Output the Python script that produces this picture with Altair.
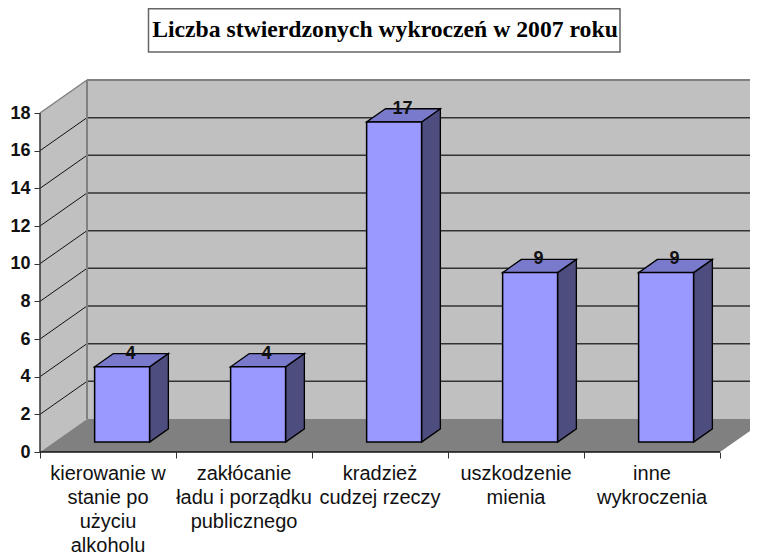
import altair as alt
import pandas as pd

categories = ["kierowanie w\nstanie po\nużyciu\nalkoholu",
              "zakłócanie\nładu i porządku\npublicznego",
              "kradzież\ncudzej rzeczy",
              "uszkodzenie\nmienia",
              "inne\nwykroczenia"]
values = [4, 4, 17, 9, 9]
y_ticks = list(range(0, 20, 2))
x_ticks = list(range(0, 6))

PLOT_W, PLOT_H = 710, 372
XMAX = PLOT_W / 136
DX = 47 / 136      # wall depth, in category units
DY = 33 / 18.83    # wall depth, in value units
YMAX = 18 + DY
BW = 0.404         # bar width
T0, T1 = 0.3, 0.7  # bar front/back position in depth

xs = alt.Scale(domain=[0, XMAX], nice=False, zero=False)
ys = alt.Scale(domain=[0, YMAX], nice=False, zero=False)
axis_style = dict(grid=False, domain=False, title=None, tickColor="#333333", tickWidth=1,
                  tickSize=6)
x_axis = alt.Axis(values=x_ticks, labels=False, **axis_style)
y_axis = alt.Axis(values=y_ticks, labelFont="Liberation Sans", labelFontWeight="bold",
                  labelFontSize=18, labelColor="#111111", labelPadding=4, **axis_style)
X = lambda f: alt.X(f, type="quantitative", scale=xs, axis=x_axis)
Y = lambda f: alt.Y(f, type="quantitative", scale=ys, axis=y_axis, stack=None)
X2 = lambda f: alt.X2(f)
Y2 = lambda f: alt.Y2(f)

wall = (
    alt.Chart(pd.DataFrame({"a": [DX], "b": [5 + DX], "c": [DY], "d": [18 + DY]}))
    .mark_rect(color="#C0C0C0")
    .encode(x=X("a"), x2=X2("b"), y=Y("c"), y2=Y2("d"))
)
side_wall = (
    alt.Chart(pd.DataFrame({"x": [0, DX], "lo": [0, DY], "hi": [18, 18 + DY]}))
    .mark_area(color="#C0C0C0")
    .encode(x=X("x"), y=Y("lo"), y2=Y2("hi"))
)
floor = (
    alt.Chart(pd.DataFrame({"y": [0, DY], "l": [0, DX], "r": [5, 5 + DX]}))
    .mark_area(color="#808080", orient="horizontal")
    .encode(y=Y("y"), x=X("l"), x2=X2("r"))
)

grid_vals = [v for v in y_ticks if 0 < v < 18]
back_grid = (
    alt.Chart(pd.DataFrame({"y": [v + DY for v in grid_vals], "l": DX, "r": 5 + DX}))
    .mark_rule(color="#333333", strokeWidth=1.5)
    .encode(x=X("l"), x2=X2("r"), y=Y("y"))
)
side_grid = (
    alt.Chart(pd.DataFrame({"v": grid_vals, "y2": [v + DY for v in grid_vals], "l": 0, "r": DX}))
    .mark_rule(color="#111111", strokeWidth=1)
    .encode(x=X("l"), x2=X2("r"), y=Y("v"), y2=Y2("y2"))
)
top_edge = (
    alt.Chart(pd.DataFrame({"y": [18 + DY], "l": [DX], "r": [5 + DX]}))
    .mark_rule(color="#808080", strokeWidth=2)
    .encode(x=X("l"), x2=X2("r"), y=Y("y"))
)
back_left = (
    alt.Chart(pd.DataFrame({"x": [DX], "lo": [DY], "hi": [18 + DY]}))
    .mark_rule(color="#808080", strokeWidth=2)
    .encode(x=X("x"), y=Y("lo"), y2=Y2("hi"))
)
side_top = (
    alt.Chart(pd.DataFrame({"l": [0], "r": [DX], "a": [18], "b": [18 + DY]}))
    .mark_rule(color="#808080", strokeWidth=1.5)
    .encode(x=X("l"), x2=X2("r"), y=Y("a"), y2=Y2("b"))
)
y_line = (
    alt.Chart(pd.DataFrame({"x": [0], "a": [0], "b": [18]}))
    .mark_rule(color="#333333", strokeWidth=1.5)
    .encode(x=X("x"), y=Y("a"), y2=Y2("b"))
)
x_line = (
    alt.Chart(pd.DataFrame({"y": [0], "a": [0], "b": [5]}))
    .mark_rule(color="#111111", strokeWidth=1.5)
    .encode(y=Y("y"), x=X("a"), x2=X2("b"))
)

rows_front, rows_side, rows_top, rows_lab = [], [], [], []
for i, v in enumerate(values):
    l = i + 0.5 - BW / 2 + T0 * DX
    r = l + BW
    d = (T1 - T0) * DX
    b = T0 * DY
    h = (T1 - T0) * DY
    rows_front.append({"l": l, "r": r, "lo": b, "hi": b + v})
    rows_side += [{"i": i, "x": r, "lo": b, "hi": b + v},
                  {"i": i, "x": r + d, "lo": b + h, "hi": b + v + h}]
    rows_top += [{"i": i, "y": b + v, "l": l, "r": r},
                 {"i": i, "y": b + v + h, "l": l + d, "r": r + d}]
    rows_lab.append({"x": (l + r) / 2 + d / 2, "y": b + v + h, "t": str(v)})

bar_side = (
    alt.Chart(pd.DataFrame(rows_side))
    .mark_area(color="#4D4D80", stroke="#000000", strokeWidth=1.3)
    .encode(x=X("x"), y=Y("lo"), y2=Y2("hi"), detail="i:N")
)
bar_top = (
    alt.Chart(pd.DataFrame(rows_top))
    .mark_area(color="#7A7ACC", stroke="#000000", strokeWidth=1.3, orient="horizontal")
    .encode(y=Y("y"), x=X("l"), x2=X2("r"), detail="i:N")
)
bar_front = (
    alt.Chart(pd.DataFrame(rows_front))
    .mark_rect(color="#9999FF", stroke="#000000", strokeWidth=1.5)
    .encode(x=X("l"), x2=X2("r"), y=Y("lo"), y2=Y2("hi"))
)
bar_labels = (
    alt.Chart(pd.DataFrame(rows_lab))
    .mark_text(font="Liberation Sans", fontWeight="bold", fontSize=18, color="#111111",
               baseline="middle", align="center", dx=-1)
    .encode(x=X("x"), y=Y("y"), text="t:N")
)
cat_labels = (
    alt.Chart(pd.DataFrame({"x": [i + 0.5 for i in range(5)], "t": categories}))
    .mark_text(font="Liberation Sans", fontSize=20, color="#111111", baseline="top",
               align="center", lineBreak="\n", lineHeight=24)
    .encode(x=X("x"), y=alt.value(PLOT_H + 12), text="t:N")
)
title_box = (
    alt.Chart(pd.DataFrame({"a": [0]}))
    .mark_rect(fill="#FFFFFF", stroke="#666666", strokeWidth=1.5)
    .encode(x=alt.value(108.5), x2=alt.value(580), y=alt.value(-71.2), y2=alt.value(-28))
)
title_text = (
    alt.Chart(pd.DataFrame({"t": ["Liczba stwierdzonych wykroczeń w 2007 roku"]}))
    .mark_text(font="Liberation Serif", fontWeight="bold", fontSize=23.7, color="#000000",
               baseline="middle", align="center")
    .encode(x=alt.value(345), y=alt.value(-50), text="t:N")
)

chart = alt.layer(
    wall, side_wall, floor, back_grid, side_grid, top_edge, back_left, side_top,
    y_line, x_line, bar_side, bar_top, bar_front, bar_labels, cat_labels, title_box, title_text,
).properties(
    width=PLOT_W, height=PLOT_H,
    padding={"left": 32, "top": 72, "right": 0, "bottom": 112},
    autosize=alt.AutoSizeParams(type="none"),
    background="#FFFFFF",
).configure_view(stroke=None)

chart.save("out.html", embed_options={"renderer": "svg", "actions": False})
